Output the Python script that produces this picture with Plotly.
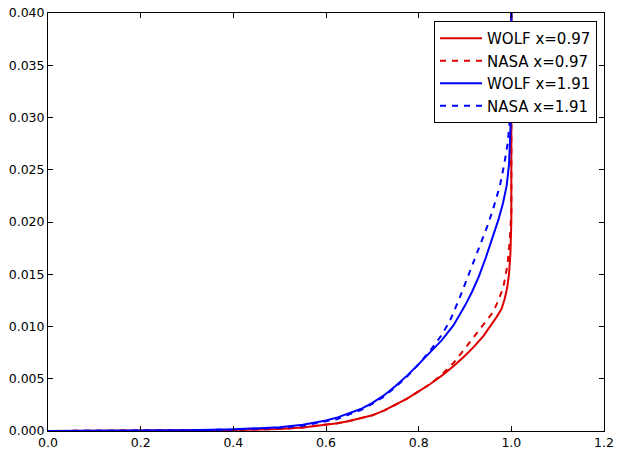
import plotly.graph_objects as go

# Red WOLF x=0.97 (solid)
wolf097_u = [0, 0.1, 0.2, 0.3, 0.4, 0.45, 0.5, 0.55, 0.6, 0.625, 0.65, 0.675, 0.7, 0.725, 0.75, 0.775, 0.8, 0.825,
             0.85, 0.875, 0.9, 0.92, 0.94, 0.955, 0.968, 0.979, 0.986, 0.991, 0.995, 0.998, 1.0, 1.0]
wolf097_y = [0, 0.00001, 0.00003, 0.00006, 0.0001, 0.00014, 0.0002, 0.00034, 0.00057, 0.00075, 0.00095, 0.0012, 0.0015,
             0.00195, 0.0025, 0.0031, 0.0038, 0.0045, 0.0053, 0.0062, 0.0072, 0.0081, 0.0091, 0.0100, 0.0109, 0.0117,
             0.0127, 0.0137, 0.015, 0.017, 0.020, 0.045]

# Red NASA x=0.97 (dashed)
nasa097_u = [0, 0.1, 0.2, 0.3, 0.4, 0.45, 0.5, 0.55, 0.6, 0.625, 0.65, 0.675, 0.7, 0.725, 0.75, 0.775, 0.8, 0.825,
             0.85, 0.875, 0.9, 0.932, 0.95, 0.961, 0.972, 0.983, 0.992, 0.997, 1.0, 1.0]
nasa097_y = [0, 0.00001, 0.00003, 0.00006, 0.0001, 0.00014, 0.0002, 0.00034, 0.00057, 0.00075, 0.00095, 0.0012, 0.0015,
             0.00195, 0.0025, 0.0031, 0.0038, 0.0045, 0.0054, 0.0065, 0.0079, 0.0097, 0.0107, 0.0114, 0.0125, 0.0138,
             0.016, 0.0185, 0.021, 0.045]

# Blue WOLF x=1.91 (solid)
wolf191_u = [0, 0.1, 0.2, 0.3, 0.4, 0.45, 0.5, 0.55, 0.6, 0.625, 0.65, 0.675, 0.7, 0.725, 0.75, 0.775, 0.8, 0.825,
             0.85, 0.875, 0.9, 0.915, 0.93, 0.945, 0.96, 0.972, 0.982, 0.99, 0.995, 0.998, 1.0, 1.0]
wolf191_y = [0, 0.00001, 0.00003, 0.00006, 0.00016, 0.00024, 0.00036, 0.0006, 0.001, 0.0013, 0.0017, 0.0021, 0.0027,
             0.0034, 0.0043, 0.0053, 0.0064, 0.0075, 0.0087, 0.0101, 0.0120, 0.0133, 0.0148, 0.0166, 0.0185, 0.0202,
             0.0218, 0.0235, 0.0255, 0.028, 0.031, 0.045]

# Blue NASA x=1.91 (dashed)
nasa191_u = [0, 0.1, 0.2, 0.3, 0.4, 0.5, 0.55, 0.6, 0.625, 0.645, 0.675, 0.7, 0.725, 0.75, 0.775, 0.8, 0.825, 0.85,
             0.868, 0.889, 0.91, 0.932, 0.95, 0.961, 0.975, 0.985, 0.992, 0.997, 1.0, 1.0]
nasa191_y = [0, 0.00001, 0.00003, 0.00006, 0.00014, 0.0003, 0.0005, 0.0009, 0.00115, 0.0015, 0.002, 0.0026, 0.0033,
             0.0042, 0.0052, 0.0064, 0.0077, 0.0092, 0.0106, 0.0128, 0.0152, 0.0176, 0.0198, 0.0213, 0.0234, 0.0256,
             0.0275, 0.0298, 0.032, 0.045]

x_ticks = [0.0, 0.2, 0.4, 0.6, 0.8, 1.0, 1.2]
y_ticks = [0.000, 0.005, 0.010, 0.015, 0.020, 0.025, 0.030, 0.035, 0.040]

RED = "#dd0000"
BLUE = "#0000ff"

fig = go.Figure()
fig.add_trace(go.Scatter(x=wolf097_u, y=wolf097_y, mode="lines", name="WOLF x=0.97",
                         line=dict(color=RED, width=2)))
fig.add_trace(go.Scatter(x=nasa097_u, y=nasa097_y, mode="lines", name="NASA x=0.97",
                         line=dict(color=RED, width=2, dash="6px,6px")))
fig.add_trace(go.Scatter(x=wolf191_u, y=wolf191_y, mode="lines", name="WOLF x=1.91",
                         line=dict(color=BLUE, width=2)))
fig.add_trace(go.Scatter(x=nasa191_u, y=nasa191_y, mode="lines", name="NASA x=1.91",
                         line=dict(color=BLUE, width=2, dash="6px,6px")))

axis_common = dict(
    showline=True, linecolor="black", linewidth=1, mirror="ticks",
    ticks="inside", ticklen=5, tickwidth=1, tickcolor="black",
    showgrid=False, zeroline=False, automargin=False,
    tickfont=dict(family="DejaVu Sans", size=12.5, color="black"),
)

fig.update_xaxes(range=[0, 1.2], tickvals=x_ticks, tickformat=".1f", **axis_common)
fig.update_yaxes(range=[0, 0.040], tickvals=y_ticks, tickformat=".3f", **axis_common)

fig.update_layout(
    width=618, height=454,
    margin=dict(l=48, r=14, t=13, b=23),
    plot_bgcolor="white", paper_bgcolor="white",
    font=dict(family="DejaVu Sans", color="black"),
    showlegend=True,
    legend=dict(
        x=(597 - 48) / 556, xanchor="right",
        y=(431 - 21) / 418, yanchor="top",
        bgcolor="white", bordercolor="black", borderwidth=1,
        font=dict(family="DejaVu Sans", size=15, color="black"),
        itemwidth=42,
    ),
)

fig.write_html("out.html",
               config={"displayModeBar": False},
               post_script="document.body.style.margin='0px';document.body.style.overflow='hidden';")
